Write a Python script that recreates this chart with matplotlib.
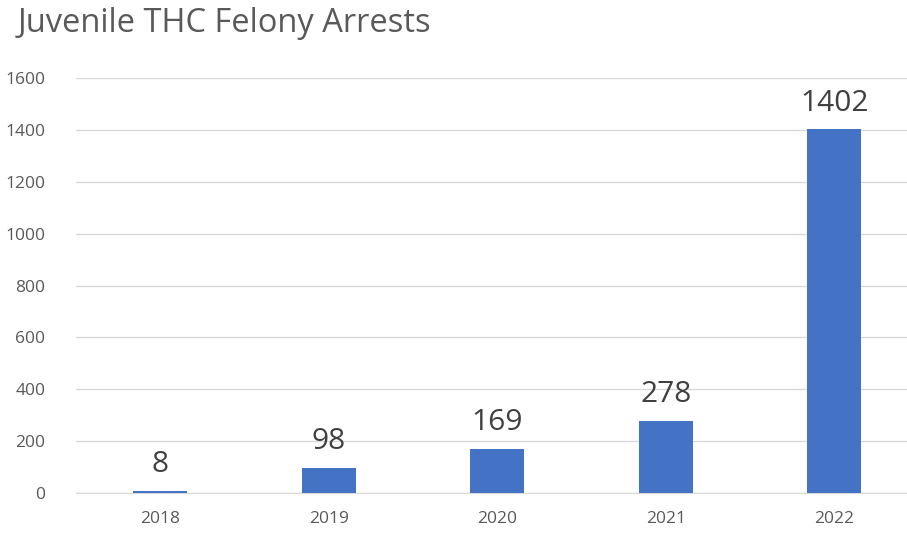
import matplotlib.pyplot as plt

years = ["2018", "2019", "2020", "2021", "2022"]
arrests = [8, 98, 169, 278, 1402]
y_ticks = [0, 200, 400, 600, 800, 1000, 1200, 1400, 1600]

plt.rcParams["font.family"] = ["Open Sans", "DejaVu Sans"]

fig = plt.figure(figsize=(9.07, 5.34), dpi=100)
ax = fig.add_axes([76 / 907, 41 / 534, 834 / 907, 415 / 534])

x = range(len(years))
ax.bar(x, arrests, width=0.32, color="#4472C4", zorder=3)
for xi, v in zip(x, arrests):
    ax.text(xi, v + 45, str(v), ha="center", va="bottom", fontsize=21.5, color="#404040")

ax.set_xlim(-0.5, 4.45)
ax.set_ylim(0, 1600)
ax.set_yticks(y_ticks)
ax.set_xticks(list(x))
ax.set_xticklabels(years)
ax.tick_params(axis="both", length=0, labelsize=12.5, colors="#595959")
ax.tick_params(axis="y", pad=22)
ax.tick_params(axis="x", pad=13)
ax.grid(axis="y", color="#D9D9D9", linewidth=1, zorder=0)
for side in ["top", "right", "left"]:
    ax.spines[side].set_visible(False)
ax.spines["bottom"].set_color("#D9D9D9")

fig.text(18 / 907, 1 - 24 / 534, "Juvenile THC Felony Arrests", fontsize=23.5, color="#595959", va="center", ha="left")

fig.savefig("out.png", dpi=100)
